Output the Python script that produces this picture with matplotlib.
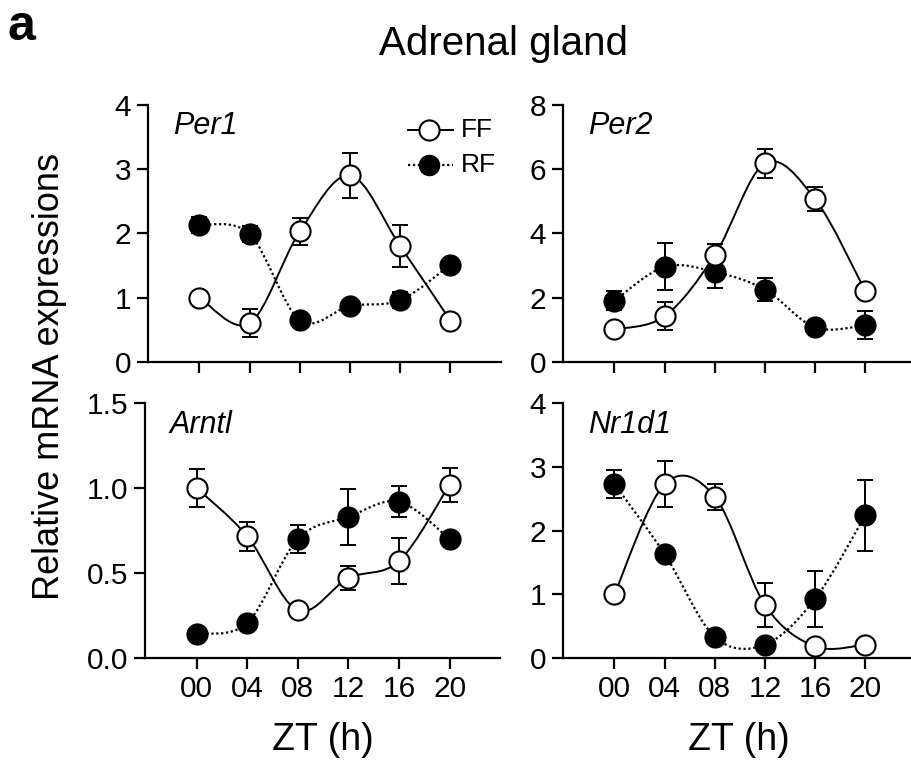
import numpy as np
import matplotlib
matplotlib.use("Agg")
import matplotlib.pyplot as plt
from matplotlib.path import Path
from matplotlib.patches import PathPatch

plt.rcParams['font.family'] = ['Liberation Sans', 'DejaVu Sans']

zt = [0, 4, 8, 12, 16, 20]
zt_labels = ["00", "04", "08", "12", "16", "20"]

# Per1
per1_ff = [1.0, 0.60, 2.03, 2.90, 1.80, 0.64]
per1_ff_err = [0.05, 0.22, 0.21, 0.35, 0.33, 0.05]
per1_rf = [2.13, 1.99, 0.65, 0.87, 0.96, 1.51]
per1_rf_err = [0.12, 0.13, 0.05, 0.05, 0.12, 0.05]

# Per2
per2_ff = [1.01, 1.42, 3.32, 6.18, 5.06, 2.20]
per2_ff_err = [0.10, 0.44, 0.35, 0.45, 0.38, 0.10]
per2_rf = [1.90, 2.96, 2.80, 2.25, 1.07, 1.14]
per2_rf_err = [0.30, 0.73, 0.50, 0.35, 0.15, 0.43]

# Arntl
arntl_ff = [1.00, 0.716, 0.28, 0.47, 0.57, 1.02]
arntl_ff_err = [0.11, 0.085, 0.02, 0.07, 0.135, 0.10]
arntl_rf = [0.143, 0.206, 0.70, 0.83, 0.92, 0.70]
arntl_rf_err = [0.02, 0.02, 0.08, 0.165, 0.09, 0.02]

# Nr1d1
nr1d1_ff = [1.0, 2.73, 2.53, 0.83, 0.18, 0.21]
nr1d1_ff_err = [0.05, 0.36, 0.20, 0.35, 0.03, 0.03]
nr1d1_rf = [2.73, 1.63, 0.33, 0.21, 0.93, 2.24]
nr1d1_rf_err = [0.22, 0.05, 0.05, 0.05, 0.44, 0.56]

panels = [
    ("Per1", per1_ff, per1_ff_err, per1_rf, per1_rf_err, [0, 1, 2, 3, 4], ["0", "1", "2", "3", "4"]),
    ("Per2", per2_ff, per2_ff_err, per2_rf, per2_rf_err, [0, 2, 4, 6, 8], ["0", "2", "4", "6", "8"]),
    ("Arntl", arntl_ff, arntl_ff_err, arntl_rf, arntl_rf_err, [0, 0.5, 1.0, 1.5], ["0.0", "0.5", "1.0", "1.5"]),
    ("Nr1d1", nr1d1_ff, nr1d1_ff_err, nr1d1_rf, nr1d1_rf_err, [0, 1, 2, 3, 4], ["0", "1", "2", "3", "4"]),
]

positions = [
    [0.1625, 0.527, 0.387, 0.336],
    [0.618, 0.527, 0.387, 0.336],
    [0.159, 0.140, 0.390, 0.333],
    [0.618, 0.140, 0.387, 0.333],
]


def smooth_path(x, y):
    # catmull-rom through the points, drawn as bezier segments
    pts = np.column_stack([x, y]).astype(float)
    ext = np.vstack([pts[0], pts, pts[-1]])
    verts = [pts[0]]
    codes = [Path.MOVETO]
    for i in range(len(pts) - 1):
        p0, p1, p2, p3 = ext[i], ext[i + 1], ext[i + 2], ext[i + 3]
        c1 = p1 + (p2 - p0) / 6
        c2 = p2 - (p3 - p1) / 6
        verts += [c1, c2, p2]
        codes += [Path.CURVE4] * 3
    return Path(verts, codes)


fig = plt.figure(figsize=(9.11, 7.65), dpi=100)

for i, (name, ff, ffe, rf, rfe, yt, ytl) in enumerate(panels):
    ax = fig.add_axes(positions[i])
    ax.add_patch(PathPatch(smooth_path(zt, rf), fill=False, lw=1.6, ls=(0, (1, 1.2)), color='black', zorder=2))
    ax.add_patch(PathPatch(smooth_path(zt, ff), fill=False, lw=1.4, color='black', zorder=2))
    ax.errorbar(zt, rf, yerr=rfe, fmt='none', ecolor='black', elinewidth=1.4, capsize=6, capthick=1.4, zorder=3)
    ax.plot(zt, rf, 'o', ms=14.5, mfc='black', mec='black', mew=1.5, zorder=4)
    ax.errorbar(zt, ff, yerr=ffe, fmt='none', ecolor='black', elinewidth=1.4, capsize=6, capthick=1.4, zorder=5)
    ax.plot(zt, ff, 'o', ms=14.5, mfc='white', mec='black', mew=1.5, zorder=6)

    ax.set_xlim(-4.1, 24)
    ax.set_ylim(yt[0], yt[-1])
    ax.set_yticks(yt)
    ax.set_yticklabels(ytl)
    ax.set_xticks(zt)
    if i >= 2:
        ax.set_xticklabels(zt_labels)
        ax.set_xlabel("ZT (h)", fontsize=27, labelpad=14)
    else:
        ax.set_xticklabels([])
    for s in ['top', 'right']:
        ax.spines[s].set_visible(False)
    for s in ['left', 'bottom']:
        ax.spines[s].set_linewidth(1.6)
    ax.tick_params(labelsize=21.5, width=1.6, length=8, pad=4)
    ax.text(0.07, 0.975, name, transform=ax.transAxes, fontsize=22, style='italic', va='top', ha='left')
    ax.patch.set_visible(False)
    for child in ax.get_children():
        child.set_clip_on(False)

    if i == 0:
        lax = ax
        lax.plot([16.6, 20.2], [3.61, 3.61], '-', color='black', lw=1.4, clip_on=False)
        lax.plot([18.3], [3.61], 'o', ms=14.5, mfc='white', mec='black', mew=1.5, clip_on=False)
        lax.plot([16.6, 20.2], [3.07, 3.07], color='black', lw=1.6, ls=(0, (1, 1.2)), clip_on=False)
        lax.plot([18.3], [3.07], 'o', ms=14.5, mfc='black', mec='black', clip_on=False)
        lax.text(20.8, 3.61, "FF", fontsize=19, va='center')
        lax.text(20.8, 3.07, "RF", fontsize=19, va='center')

fig.text(0.553, 0.928, "Adrenal gland", fontsize=29, ha='center', va='baseline')
fig.text(0.008, 0.995, "a", fontsize=36, fontweight='bold', ha='left', va='top')
fig.text(0.054, 0.508, "Relative mRNA expressions", fontsize=26, rotation=90, ha='center', va='center')

fig.savefig("out.png", dpi=100)
